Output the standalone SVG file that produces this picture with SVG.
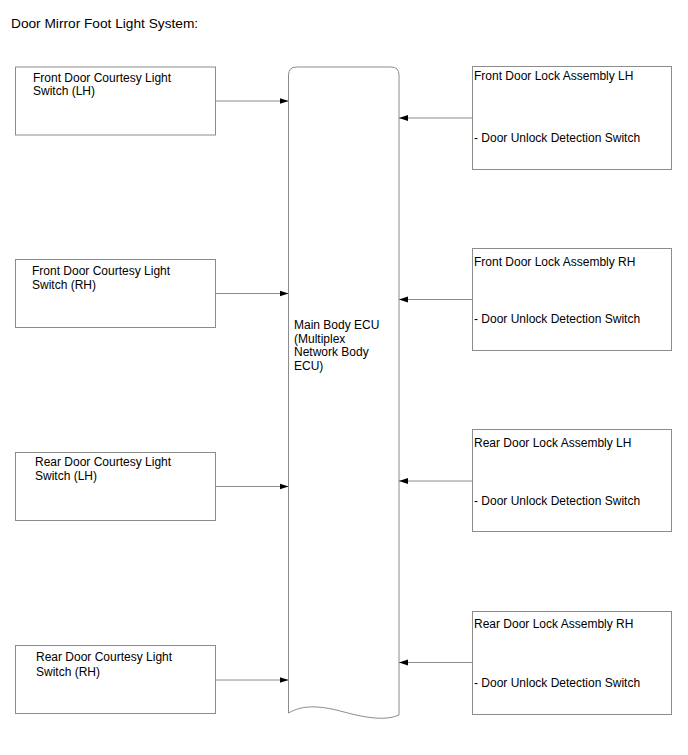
<svg xmlns="http://www.w3.org/2000/svg" width="688" height="755" viewBox="0 0 688 755">
<style>
.box{fill:#fff;stroke:#8c8c8c;stroke-width:1}
.t{font-family:"Liberation Sans",Arial,sans-serif;font-size:12px;fill:#000}
.title{font-family:"Liberation Sans",Arial,sans-serif;font-size:13.7px;fill:#000}
.conn line{stroke:#8c8c8c;stroke-width:1;marker-end:url(#ah)}
</style>
<defs>
<marker id="ah" markerWidth="10" markerHeight="8" refX="9" refY="4" orient="auto" markerUnits="userSpaceOnUse">
<path d="M0,1 L9,4 L0,7 Z" fill="#000"/>
</marker>
</defs>
<rect width="688" height="755" fill="#fff"/>
<text class="title" x="11" y="28">Door Mirror Foot Light System:</text>

<g id="ecu">
<path class="box" d="M288.5,75 Q288.5,67 296.5,67 L391,67 Q399,67 399,75 L399,715 C386,721 366,718 344,712 C322,706 304,704 288.5,713 Z"/>
<text class="t" x="294" y="329">Main Body ECU</text>
<text class="t" x="294" y="342.5">(Multiplex</text>
<text class="t" x="294" y="356">Network Body</text>
<text class="t" x="294" y="369.5">ECU)</text>
</g>

<g id="fl-courtesy">
<rect class="box" x="15.5" y="67" width="200" height="68"/>
<text class="t" x="33" y="81.5">Front Door Courtesy Light</text>
<text class="t" x="33" y="95">Switch (LH)</text>
</g>
<g id="fr-courtesy">
<rect class="box" x="15.5" y="259.5" width="200" height="68"/>
<text class="t" x="32" y="275">Front Door Courtesy Light</text>
<text class="t" x="32" y="289">Switch (RH)</text>
</g>
<g id="rl-courtesy">
<rect class="box" x="15.5" y="452.5" width="200" height="68"/>
<text class="t" x="35" y="466">Rear Door Courtesy Light</text>
<text class="t" x="35" y="480">Switch (LH)</text>
</g>
<g id="rr-courtesy">
<rect class="box" x="15.5" y="645.5" width="200" height="68"/>
<text class="t" x="36" y="661">Rear Door Courtesy Light</text>
<text class="t" x="36" y="675.5">Switch (RH)</text>
</g>

<g id="fl-lock">
<rect class="box" x="472.5" y="66.5" width="199" height="103"/>
<text class="t" x="474" y="79.5">Front Door Lock Assembly LH</text>
<text class="t" x="474" y="142">- Door Unlock Detection Switch</text>
</g>
<g id="fr-lock">
<rect class="box" x="472.5" y="248.5" width="199" height="102"/>
<text class="t" x="474" y="266">Front Door Lock Assembly RH</text>
<text class="t" x="474" y="323">- Door Unlock Detection Switch</text>
</g>
<g id="rl-lock">
<rect class="box" x="472.5" y="429.5" width="199" height="102"/>
<text class="t" x="474" y="447">Rear Door Lock Assembly LH</text>
<text class="t" x="474" y="504.5">- Door Unlock Detection Switch</text>
</g>
<g id="rr-lock">
<rect class="box" x="472.5" y="611.5" width="199" height="103"/>
<text class="t" x="474" y="627.5">Rear Door Lock Assembly RH</text>
<text class="t" x="474" y="686.5">- Door Unlock Detection Switch</text>
</g>

<g id="connectors" class="conn">
<line x1="215.5" y1="101" x2="288.5" y2="101"/>
<line x1="215.5" y1="293.5" x2="288.5" y2="293.5"/>
<line x1="215.5" y1="486.5" x2="288.5" y2="486.5"/>
<line x1="215.5" y1="680" x2="288.5" y2="680"/>
<line x1="472.5" y1="118" x2="399" y2="118"/>
<line x1="472.5" y1="299.5" x2="399" y2="299.5"/>
<line x1="472.5" y1="481" x2="399" y2="481"/>
<line x1="472.5" y1="662.5" x2="399" y2="662.5"/>
</g>
</svg>
